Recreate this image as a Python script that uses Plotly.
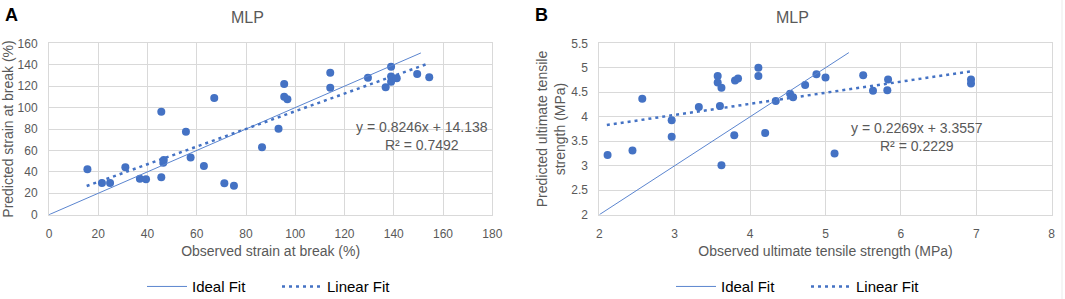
import plotly.graph_objects as go

# ---------------- Data: panel A (strain at break, %) ----------------
a_obs = [15.6, 21.5, 24.8, 31.0, 36.9, 39.4, 45.6, 46.4, 46.6, 45.6, 55.6, 57.5, 62.9,
         67.1, 71.2, 75.1, 86.5, 93.2, 95.5, 95.5, 96.8, 114.2, 114.2, 129.5, 136.7,
         138.9, 138.9, 138.9, 141.2, 149.5, 154.4]
a_pred = [42.4, 29.6, 29.6, 44.3, 33.6, 33.0, 34.9, 48.6, 51.0, 96.2, 77.5, 53.5, 45.5,
          109.0, 29.3, 27.1, 63.0, 80.2, 122.0, 110.2, 107.7, 132.6, 118.6, 127.9, 119.0,
          138.2, 128.9, 124.2, 127.4, 131.4, 128.3]
a_ideal_x = [0, 151]
a_fit_x = [15.3, 153.3]
a_slope, a_intercept, a_r2 = 0.8246, 14.138, 0.7492

# ---------------- Data: panel B (ultimate tensile strength, MPa) ----------------
b_obs = [2.11, 2.44, 2.57, 2.96, 2.96, 3.32, 3.57, 3.57, 3.62, 3.60, 3.62, 3.79, 3.80,
         3.84, 4.11, 4.11, 4.20, 4.34, 4.53, 4.57, 4.73, 4.88, 5.00, 5.12, 5.50, 5.63,
         5.83, 5.82, 6.93, 6.93]
b_pred = [3.22, 3.31, 4.37, 3.93, 3.59, 4.20, 4.83, 4.70, 4.59, 4.22, 3.01, 3.62, 4.74,
          4.78, 5.00, 4.83, 3.67, 4.32, 4.47, 4.40, 4.65, 4.87, 4.80, 3.25, 4.85, 4.53,
          4.76, 4.54, 4.76, 4.68]
b_ideal_x = [2, 5.31]
b_fit_x = [2.1, 6.93]
b_slope, b_intercept, b_r2 = 0.2269, 3.3557, 0.2229

a_xticks = list(range(0, 181, 20))
a_yticks = list(range(0, 161, 20))
b_xticks = [2, 3, 4, 5, 6, 7, 8]
b_yticks = [2, 2.5, 3, 3.5, 4, 4.5, 5, 5.5]
b_yticklabels = ["2", "2.5", "3", "3.5", "4", "4.5", "5", "5.5"]

BLUE = "#4472C4"
IDEAL = "#5B85CF"
GRID = "#D9D9D9"
TXT = "#595959"
FONT = "Liberation Sans, Arial, sans-serif"
FIT_DASH = "3px,4px"

fig = go.Figure()

# Panel A
fig.add_trace(go.Scatter(x=a_obs, y=a_pred, mode="markers", xaxis="x", yaxis="y",
                         marker=dict(color=BLUE, size=8), showlegend=False))
fig.add_trace(go.Scatter(x=a_ideal_x, y=a_ideal_x, mode="lines", xaxis="x", yaxis="y",
                         line=dict(color=IDEAL, width=1), name="Ideal Fit", legend="legend"))
fig.add_trace(go.Scatter(x=a_fit_x, y=[a_slope * v + a_intercept for v in a_fit_x],
                         mode="lines", xaxis="x", yaxis="y",
                         line=dict(color=BLUE, width=2.5, dash=FIT_DASH), name="Linear Fit",
                         legend="legend"))

# Panel B
fig.add_trace(go.Scatter(x=b_obs, y=b_pred, mode="markers", xaxis="x2", yaxis="y2",
                         marker=dict(color=BLUE, size=8), showlegend=False))
fig.add_trace(go.Scatter(x=b_ideal_x, y=b_ideal_x, mode="lines", xaxis="x2", yaxis="y2",
                         line=dict(color=IDEAL, width=1), name="Ideal Fit", legend="legend2"))
fig.add_trace(go.Scatter(x=b_fit_x, y=[b_slope * v + b_intercept for v in b_fit_x],
                         mode="lines", xaxis="x2", yaxis="y2",
                         line=dict(color=BLUE, width=2.5, dash=FIT_DASH), name="Linear Fit",
                         legend="legend2"))

W, H = 1065, 299
def px_x(p):
    return p / W
def px_y(p):
    return 1 - p / H

axis_common = dict(showgrid=True, gridcolor=GRID, gridwidth=1, zeroline=False,
                   showline=True, linecolor=GRID, mirror=True, ticks="", automargin=False,
                   tickfont=dict(family=FONT, size=12, color=TXT),
                   title_font=dict(family=FONT, size=14, color=TXT))

legend_common = dict(orientation="h", yanchor="middle", xanchor="left",
                     font=dict(family=FONT, size=15, color="black"),
                     bgcolor="rgba(0,0,0,0)", itemwidth=40, entrywidth=80)

def label(text, x, y, size, color, family=FONT):
    return dict(text=text, x=px_x(x), y=px_y(y), xref="paper", yref="paper",
                xanchor="center", yanchor="middle", showarrow=False,
                font=dict(family=family, size=size, color=color))

fig.update_layout(
    width=W, height=H, autosize=False,
    margin=dict(l=0, r=0, t=0, b=0, autoexpand=False),
    paper_bgcolor="white", plot_bgcolor="white",
    font=dict(family=FONT, color=TXT),
    xaxis=dict(domain=[px_x(49), px_x(492.3)], range=[0, 180], tickvals=a_xticks,
               anchor="y", title=dict(text="Observed strain at break (%)", standoff=6),
               ticklabelstandoff=8, **axis_common),
    yaxis=dict(domain=[px_y(214.7), px_y(43.3)], range=[0, 160], tickvals=a_yticks,
               anchor="x", title=dict(text="Predicted strain at break (%)", standoff=4),
               ticklabelstandoff=8, **axis_common),
    xaxis2=dict(domain=[px_x(599.3), px_x(1051.7)], range=[2, 8], tickvals=b_xticks,
                anchor="y2", title=dict(text="Observed ultimate tensile strength (MPa)", standoff=6),
                ticklabelstandoff=8, **axis_common),
    yaxis2=dict(domain=[px_y(214.7), px_y(43.3)], range=[2, 5.5], tickvals=b_yticks,
                ticktext=b_yticklabels, anchor="x2",
                title=dict(text="Predicted ultimate tensile<br>strength (MPa)", standoff=2),
                ticklabelstandoff=8, **axis_common),
    legend=dict(x=px_x(142), y=px_y(286.7), **legend_common),
    legend2=dict(x=px_x(671), y=px_y(286.7), **legend_common),
    shapes=[dict(type="line", xref="paper", yref="paper", x0=px_x(1062), x1=px_x(1062),
                 y0=0, y1=1, line=dict(color="#EBEBEB", width=1))],
    annotations=[
        label("MLP", 247.5, 18, 16, TXT),
        label("MLP", 792, 18, 16, TXT),
        label("<b>A</b>", 11.5, 15, 18, "black", "Liberation Sans, Arial"),
        label("<b>B</b>", 541, 15, 18, "black", "Liberation Sans, Arial"),
        dict(text=f"y = {a_slope}x + {a_intercept}<br>R² = {a_r2}", x=151.3, y=73.7,
             xref="x", yref="y", showarrow=False, align="center",
             font=dict(family=FONT, size=14, color=TXT)),
        dict(text=f"y = {b_slope}x + {b_intercept}<br>R² = {b_r2}", x=6.21, y=3.58,
             xref="x2", yref="y2", showarrow=False, align="center",
             font=dict(family=FONT, size=14, color=TXT)),
    ],
)

fig.write_html("out.html", config={"displayModeBar": False},
               post_script="document.body.style.margin='0';document.body.style.overflow='hidden';")
